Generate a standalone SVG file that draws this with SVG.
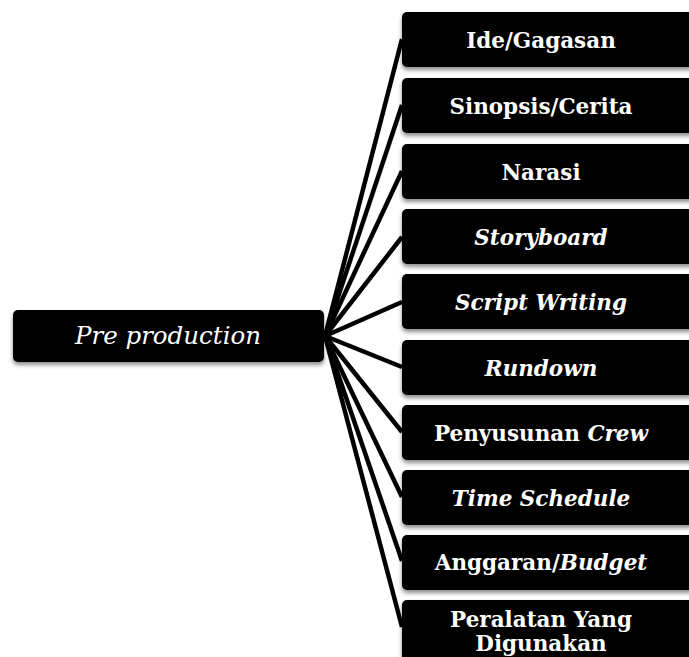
<svg xmlns="http://www.w3.org/2000/svg" width="689" height="657" viewBox="0 0 689 657">
<defs>
<filter id="sh" x="-10%" y="-20%" width="120%" height="160%">
<feDropShadow dx="0" dy="3" stdDeviation="2" flood-color="#000" flood-opacity="0.45"/>
</filter>
</defs>
<style>
.box{fill:#000;filter:url(#sh)}
.t{fill:#fff;font-family:"DejaVu Serif","Liberation Serif",serif;font-weight:bold;font-size:21.5px;text-anchor:middle}
.i{font-style:italic}
.c{stroke:#000;stroke-width:4.5;fill:none;stroke-linecap:butt}
</style>
<rect width="689" height="657" fill="#fff"/>
<g id="connectors">
<line class="c" x1="325" y1="336" x2="402" y2="39"/>
<line class="c" x1="325" y1="336" x2="402" y2="105"/>
<line class="c" x1="325" y1="336" x2="402" y2="171"/>
<line class="c" x1="325" y1="336" x2="402" y2="237"/>
<line class="c" x1="325" y1="336" x2="402" y2="302"/>
<line class="c" x1="325" y1="336" x2="402" y2="367"/>
<line class="c" x1="325" y1="336" x2="402" y2="432"/>
<line class="c" x1="325" y1="336" x2="402" y2="497"/>
<line class="c" x1="325" y1="336" x2="402" y2="561"/>
<line class="c" x1="325" y1="336" x2="402" y2="627"/>
</g>
<g id="pre-production">
<rect class="box" x="13" y="310" width="311" height="52" rx="5"/>
<text class="t i" x="168" y="344" style="font-weight:normal;font-size:24.5px">Pre production</text>
</g>
<g id="ide">
<rect class="box" x="402" y="12" width="300" height="55" rx="5"/>
<text class="t" x="541" y="48">Ide/Gagasan</text>
</g>
<g id="sinopsis">
<rect class="box" x="402" y="78" width="300" height="55" rx="5"/>
<text class="t" x="541" y="114">Sinopsis/Cerita</text>
</g>
<g id="narasi">
<rect class="box" x="402" y="144" width="300" height="55" rx="5"/>
<text class="t" x="541" y="180">Narasi</text>
</g>
<g id="storyboard">
<rect class="box" x="402" y="209" width="300" height="55" rx="5"/>
<text class="t i" x="541" y="245">Storyboard</text>
</g>
<g id="script-writing">
<rect class="box" x="402" y="274" width="300" height="55" rx="5"/>
<text class="t i" x="541" y="310">Script Writing</text>
</g>
<g id="rundown">
<rect class="box" x="402" y="340" width="300" height="55" rx="5"/>
<text class="t i" x="541" y="376">Rundown</text>
</g>
<g id="crew">
<rect class="box" x="402" y="405" width="300" height="55" rx="5"/>
<text class="t" x="541" y="441">Penyusunan <tspan class="i">Crew</tspan></text>
</g>
<g id="time-schedule">
<rect class="box" x="402" y="470" width="300" height="55" rx="5"/>
<text class="t i" x="541" y="506">Time Schedule</text>
</g>
<g id="anggaran">
<rect class="box" x="402" y="535" width="300" height="55" rx="5"/>
<text class="t" x="541" y="570">Anggaran/<tspan class="i">Budget</tspan></text>
</g>
<g id="peralatan">
<rect class="box" x="402" y="600" width="300" height="70" rx="5"/>
<text class="t" x="541" y="627">Peralatan Yang</text>
<text class="t" x="541" y="651">Digunakan</text>
</g>
</svg>
